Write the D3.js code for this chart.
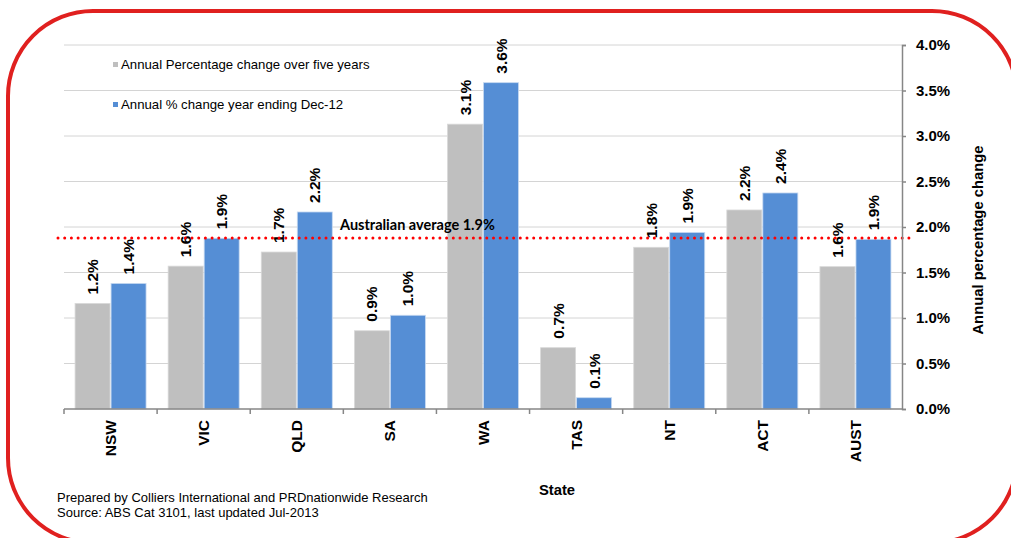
<!DOCTYPE html>
<html>
<head>
<meta charset="utf-8">
<script src="https://cdn.jsdelivr.net/npm/d3@7"></script>
<style>
  html, body { margin: 0; padding: 0; background: #fff; }
  svg { display: block; }
</style>
</head>
<body>
<svg id="chart" width="1011" height="538"></svg>
<script>
// Population growth by state, annual % change
const states = ["NSW", "VIC", "QLD", "SA", "WA", "TAS", "NT", "ACT", "AUST"];
const seriesNames = ["Annual Percentage change over five years", "Annual % change year ending Dec-12"];
const fiveYear = [1.16, 1.57, 1.725, 0.86, 3.13, 0.674, 1.777, 2.187, 1.564];
const yearDec12 = [1.38, 1.876, 2.165, 1.03, 3.586, 0.124, 1.94, 2.374, 1.865];
const australianAverage = 1.88;
const yTicks = [0, 0.5, 1, 1.5, 2, 2.5, 3, 3.5, 4];
const footnotes = [
  "Prepared by Colliers International and PRDnationwide Research",
  "Source: ABS Cat 3101, last updated Jul-2013"
];

const colors = ["#bfbfbf", "#558ed5"];
const edgeColors = ["#d9d9d9", "#c6d9f1"];
const fmt = d3.format(".1f");
const pct = v => fmt(v) + "%";

const svg = d3.select("#chart");
const plot = { left: 64, right: 902, top: 45, bottom: 409 };

// Rounded red frame
svg.append("rect")
  .attr("x", 8).attr("y", 11)
  .attr("width", 1009).attr("height", 532)
  .attr("rx", 85).attr("ry", 85)
  .attr("fill", "none")
  .attr("stroke", "#e0201f")
  .attr("stroke-width", 4);

const x0 = d3.scaleBand().domain(states).range([plot.left, plot.right]).paddingInner(0).paddingOuter(0);
const x1 = d3.scaleBand().domain([0, 1]).range([0, x0.bandwidth()]).paddingInner(0.028).paddingOuter(0.307);
const y = d3.scaleLinear().domain([0, 4]).range([plot.bottom, plot.top]);

// Gridlines
svg.append("g")
  .selectAll("line")
  .data(yTicks.filter(t => t > 0))
  .join("line")
  .attr("x1", plot.left).attr("x2", plot.right)
  .attr("y1", d => y(d)).attr("y2", d => y(d))
  .attr("stroke", "#d4d4d4")
  .attr("stroke-width", 1);

// Bars
const rows = states.map((s, i) => ({ state: s, values: [fiveYear[i], yearDec12[i]] }));
const groups = svg.append("g").selectAll("g")
  .data(rows)
  .join("g")
  .attr("transform", d => `translate(${x0(d.state)},0)`);

groups.selectAll("rect")
  .data(d => d.values.map((v, k) => ({ k, v })))
  .join("rect")
  .attr("x", d => x1(d.k))
  .attr("y", d => y(d.v))
  .attr("width", x1.bandwidth())
  .attr("height", d => y(0) - y(d.v))
  .attr("fill", d => colors[d.k])
  .attr("stroke", d => edgeColors[d.k])
  .attr("stroke-width", 0.8);

// Value labels
groups.selectAll("text")
  .data(d => d.values.map((v, k) => ({ k, v })))
  .join("text")
  .attr("transform", d => `translate(${x1(d.k) + x1.bandwidth() / 2},${y(d.v) - 9}) rotate(-90)`)
  .attr("dy", "0.36em")
  .attr("text-anchor", "start")
  .attr("font-family", "'Liberation Sans', Arial, sans-serif")
  .attr("font-weight", "bold")
  .attr("font-size", 15.5)
  .attr("fill", "#000")
  .text(d => pct(d.v));

// Australian average reference line
svg.append("line")
  .attr("x1", 58).attr("x2", 914)
  .attr("y1", y(australianAverage)).attr("y2", y(australianAverage))
  .attr("stroke", "#ff0000")
  .attr("stroke-width", 3)
  .attr("stroke-linecap", "round")
  .attr("stroke-dasharray", "0,6.7");

svg.append("text")
  .attr("x", 340).attr("y", y(australianAverage) - 8)
  .attr("font-family", "Lato, 'Open Sans', sans-serif")
  .attr("font-weight", "bold")
  .attr("font-size", 14.5)
  .attr("fill", "#000")
  .text("Australian average " + pct(australianAverage));

// X axis
const xAxis = svg.append("g");
xAxis.append("line")
  .attr("x1", plot.left).attr("x2", plot.right)
  .attr("y1", plot.bottom).attr("y2", plot.bottom)
  .attr("stroke", "#868686").attr("stroke-width", 1.5);
xAxis.selectAll("line.tick")
  .data(states)
  .join("line")
  .attr("class", "tick")
  .attr("x1", d => x0(d)).attr("x2", d => x0(d))
  .attr("y1", plot.bottom).attr("y2", plot.bottom + 5)
  .attr("stroke", "#868686").attr("stroke-width", 1.5);
xAxis.selectAll("text")
  .data(states)
  .join("text")
  .attr("transform", d => `translate(${x0(d) + x0.bandwidth() / 2},420) rotate(-90)`)
  .attr("dy", "0.36em")
  .attr("text-anchor", "end")
  .attr("font-family", "'Liberation Sans', Arial, sans-serif")
  .attr("font-weight", "bold")
  .attr("font-size", 15.5)
  .text(d => d);

// Y axis on the right
const yAxis = svg.append("g").attr("transform", `translate(${plot.right},0)`)
  .call(d3.axisRight(y).tickValues(yTicks).tickSize(4).tickPadding(10).tickFormat(pct));
yAxis.select(".domain").attr("stroke", "#868686").attr("stroke-width", 1.5);
yAxis.selectAll(".tick line").attr("stroke", "#868686").attr("stroke-width", 1.5);
yAxis.selectAll(".tick text")
  .attr("font-family", "'Liberation Sans', Arial, sans-serif")
  .attr("font-weight", "bold")
  .attr("font-size", 15)
  .attr("fill", "#000");

// Axis titles
svg.append("text")
  .attr("transform", "translate(978,240) rotate(-90)")
  .attr("dy", "0.36em")
  .attr("text-anchor", "middle")
  .attr("font-family", "'Liberation Sans', Arial, sans-serif")
  .attr("font-weight", "bold")
  .attr("font-size", 14.8)
  .text("Annual percentage change");

svg.append("text")
  .attr("x", 557).attr("y", 495)
  .attr("text-anchor", "middle")
  .attr("font-family", "'Liberation Sans', Arial, sans-serif")
  .attr("font-weight", "bold")
  .attr("font-size", 14.8)
  .text("State");

// Legend
const legend = svg.append("g").selectAll("g")
  .data(seriesNames)
  .join("g")
  .attr("transform", (d, i) => `translate(113,${[62, 102][i]})`);
legend.append("rect")
  .attr("width", 5).attr("height", 5)
  .attr("fill", (d, i) => colors[i]);
legend.append("text")
  .attr("x", 8).attr("y", 7)
  .attr("font-family", "'Liberation Sans', Arial, sans-serif")
  .attr("font-size", 13.2)
  .attr("fill", "#000")
  .text(d => d);

// Footnotes
svg.append("g").selectAll("text")
  .data(footnotes)
  .join("text")
  .attr("x", 57)
  .attr("y", (d, i) => 502 + i * 14.5)
  .attr("font-family", "'Liberation Sans', Arial, sans-serif")
  .attr("font-size", 13)
  .attr("fill", "#000")
  .text(d => d);
</script>
</body>
</html>
